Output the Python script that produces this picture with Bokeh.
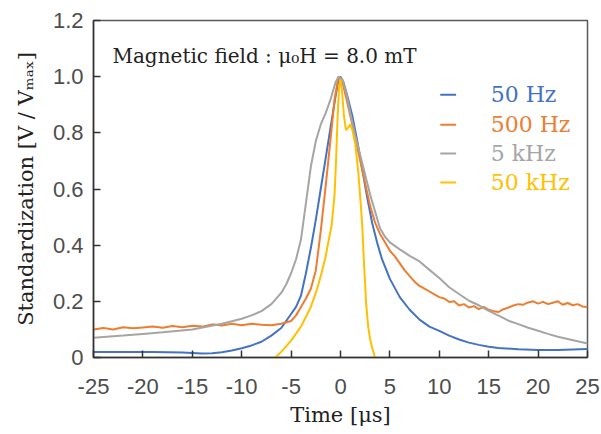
from bokeh.plotting import figure
from bokeh.models import Label, FixedTicker, ColumnDataSource, Range1d
from bokeh.core.properties import value
from bokeh.embed import file_html
from bokeh.resources import INLINE

# ---------------- data ----------------
series_names = ["50 Hz", "500 Hz", "5 kHz", "50 kHz"]
series_colors = ["#4472C4", "#ED7D31", "#A5A5A5", "#FFC000"]

t_50hz = [-25, -22, -19, -16, -14, -13, -12, -11, -10, -9, -8, -7, -6, -5, -4.5, -4, -3.5, -3,
          -2.5, -2, -1.5, -1, -0.5, -0.2, 0, 0.3, 0.7, 1.2, 1.7, 2.2, 2.7, 3.2, 3.7, 4.2, 5, 6,
          7, 8, 9, 10, 11, 12, 13, 14, 15, 16, 18, 20, 22, 25]
v_50hz = [0.020, 0.020, 0.020, 0.018, 0.014, 0.015, 0.019, 0.025, 0.033, 0.043, 0.056, 0.078,
          0.105, 0.155, 0.18, 0.22, 0.30, 0.39, 0.49, 0.60, 0.71, 0.82, 0.93, 0.99, 1.0, 0.98,
          0.93, 0.86, 0.77, 0.67, 0.57, 0.48, 0.41, 0.35, 0.28, 0.215, 0.17, 0.135, 0.11, 0.095,
          0.078, 0.064, 0.053, 0.045, 0.038, 0.034, 0.029, 0.027, 0.027, 0.030]

t_500hz = [-25, -24, -23, -22, -21, -20, -19, -18, -17, -16, -15, -14, -13, -12, -11, -10, -9,
           -8, -7, -6, -5, -4.5, -4, -3.5, -3, -2.5, -2, -1.5, -1, -0.6, -0.2, 0.2, 0.6, 1.0,
           1.5, 2, 2.5, 3, 3.5, 4, 4.5, 5, 5.5, 6, 6.5, 7, 7.5, 8, 8.5, 9, 9.5, 10, 10.5, 11,
           11.5, 12, 12.5, 13, 13.5, 14, 14.5, 15, 15.5, 16, 16.5, 17, 17.5, 18, 18.5, 19, 19.5,
           20, 20.5, 21, 21.5, 22, 22.5, 23, 23.5, 24, 24.5, 25]
v_500hz = [0.100, 0.105, 0.100, 0.108, 0.104, 0.107, 0.110, 0.106, 0.112, 0.108, 0.113, 0.110,
           0.118, 0.114, 0.120, 0.115, 0.120, 0.117, 0.115, 0.120, 0.130, 0.150, 0.180, 0.210,
           0.245, 0.310, 0.450, 0.610, 0.780, 0.920, 1.000, 0.980, 0.920, 0.860, 0.780, 0.700,
           0.620, 0.540, 0.480, 0.440, 0.410, 0.380, 0.360, 0.335, 0.310, 0.290, 0.270, 0.255,
           0.245, 0.235, 0.225, 0.215, 0.210, 0.198, 0.200, 0.185, 0.190, 0.178, 0.183, 0.172,
           0.180, 0.170, 0.165, 0.162, 0.172, 0.178, 0.185, 0.190, 0.188, 0.196, 0.200, 0.192,
           0.198, 0.190, 0.195, 0.200, 0.188, 0.194, 0.186, 0.190, 0.182, 0.180]

t_5khz = [-25, -22, -20, -18, -15, -12, -10, -9, -8, -7, -6, -5.5, -5, -4.5, -4, -3.5, -3,
          -2.5, -2, -1.5, -1, -0.5, -0.2, 0.2, 0.6, 1.0, 1.5, 2, 2.5, 3, 3.5, 4, 4.5, 5, 6, 7,
          8, 9, 10, 11, 12, 13, 14, 15, 16, 17, 18, 19, 20, 21, 22, 23, 24, 25]
v_5khz = [0.070, 0.078, 0.084, 0.090, 0.100, 0.120, 0.138, 0.150, 0.165, 0.190, 0.230, 0.260,
          0.300, 0.350, 0.420, 0.550, 0.680, 0.770, 0.830, 0.870, 0.920, 0.980, 1.000, 0.990,
          0.940, 0.870, 0.790, 0.720, 0.650, 0.580, 0.520, 0.460, 0.430, 0.410, 0.385, 0.362,
          0.342, 0.312, 0.283, 0.250, 0.226, 0.202, 0.186, 0.166, 0.149, 0.131, 0.119, 0.106,
          0.095, 0.084, 0.074, 0.066, 0.058, 0.050]

t_50khz = [-6.6, -6, -5, -4, -3, -2.4, -2, -1.5, -1.35, -0.9, -0.6, -0.45, -0.3, -0.15, 0,
           0.15, 0.35, 0.55, 0.8, 1.0, 1.2, 1.5, 1.8, 2.0, 2.2, 2.4, 2.6, 2.8, 3.0, 3.2, 3.5]
v_50khz = [0.0, 0.02, 0.06, 0.11, 0.18, 0.24, 0.29, 0.36, 0.39, 0.47, 0.58, 0.70, 0.85, 0.96,
           0.99, 0.95, 0.86, 0.81, 0.82, 0.83, 0.81, 0.76, 0.66, 0.57, 0.47, 0.32, 0.19, 0.11,
           0.065, 0.035, 0.0]

series_t = [t_50hz, t_500hz, t_5khz, t_50khz]
series_v = [v_50hz, v_500hz, v_5khz, v_50khz]

x_ticks = [-25, -20, -15, -10, -5, 0, 5, 10, 15, 20, 25]
x_tick_labels = ["-25", "-20", "-15", "-10", "-5", "0", "5", "10", "15", "20", "25"]
y_ticks = [0, 0.2, 0.4, 0.6, 0.8, 1.0, 1.2]
y_tick_labels = ["0", "0.2", "0.4", "0.6", "0.8", "1.0", "1.2"]

title_text = "Magnetic field : μ₀H = 8.0 mT"
x_label_text = "Time [μs]"
y_label_text = "Standardization [V / Vₘₐₓ]"

# ---------------- figure ----------------
p = figure(width=601, height=434, output_backend="svg", toolbar_location=None,
           x_range=Range1d(-25, 25), y_range=Range1d(0, 1.2))
p.min_border_left = 93
p.min_border_right = 14
p.min_border_top = 20
p.min_border_bottom = 77
p.background_fill_color = "white"
p.border_fill_color = "white"
p.outline_line_color = "#5a5a5a"
p.outline_line_width = 1.5
p.grid.visible = False

tick_font = "Liberation Sans"
serif = "DejaVu Serif"
for ax in (p.xaxis[0], p.yaxis[0]):
    ax.axis_line_color = "#333333"
    ax.axis_line_width = 1.5
    ax.major_tick_in = 7
    ax.major_tick_out = 0
    ax.major_tick_line_color = "#333333"
    ax.major_tick_line_width = 1.5
    ax.minor_tick_line_color = None
    ax.major_label_text_font = tick_font
    ax.major_label_text_font_size = "22px"
    ax.major_label_text_color = "#4d4d4d"
    ax.axis_label_text_font = serif
    ax.axis_label_text_font_style = "normal"
    ax.axis_label_text_font_size = "21px"
    ax.axis_label_text_color = "#222222"

p.xaxis[0].ticker = FixedTicker(ticks=x_ticks)
p.xaxis[0].major_label_overrides = dict(zip(x_ticks, x_tick_labels))
p.xaxis[0].major_label_standoff = 21
p.xaxis[0].axis_label = x_label_text
p.xaxis[0].axis_label_standoff = 6
p.yaxis[0].ticker = FixedTicker(ticks=y_ticks)
p.yaxis[0].major_label_overrides = dict(zip(y_ticks, y_tick_labels))
p.yaxis[0].major_label_standoff = 10
p.yaxis[0].axis_label = y_label_text
p.yaxis[0].axis_label_standoff = 12

for t, v, c in zip(series_t, series_v, series_colors):
    p.line(t, v, line_color=c, line_width=2)

# legend drawn as in the original (short dash + coloured text)
leg_y = [0.936, 0.829, 0.726, 0.623]
leg = ColumnDataSource(dict(name=series_names, color=series_colors, y=leg_y,
                            x0=[10.1] * 4, x1=[11.7] * 4, xt=[15.2] * 4))
p.segment(x0="x0", y0="y", x1="x1", y1="y", line_color="color", line_width=2, source=leg)
p.text(x="xt", y="y", text="name", text_color="color", source=leg,
       text_font=value(serif), text_font_size=value("22px"),
       text_baseline="middle", text_align="left")

p.add_layout(Label(x=-23.08, y=1.075, text=title_text, text_font=serif,
                   text_font_size="20px", text_color="#222222",
                   text_baseline="alphabetic", text_align="left"))

open("out.html", "w").write(file_html(p, INLINE))
